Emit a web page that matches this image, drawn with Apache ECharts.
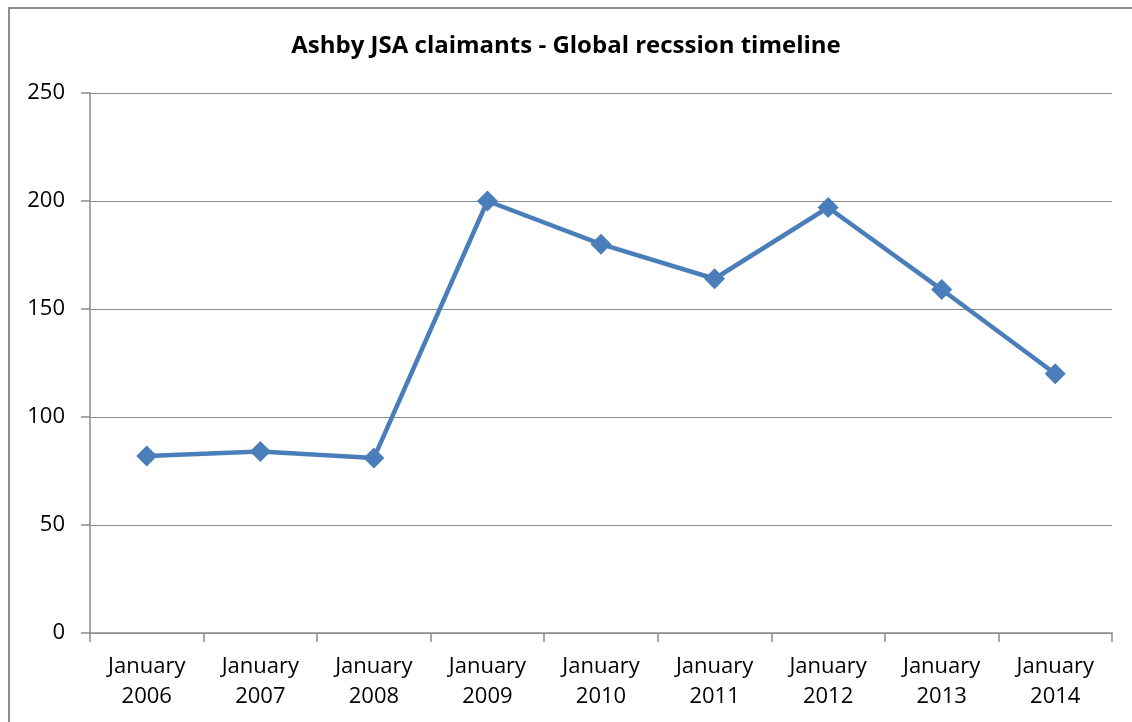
<!DOCTYPE html>
<html>
<head>
<meta charset="utf-8">
<script src="https://cdn.jsdelivr.net/npm/echarts@6/dist/echarts.min.js"></script>
<style>
  html, body { margin: 0; padding: 0; background: #fff; }
  #frame { position: absolute; left: 8px; top: 7px; width: 1140px; height: 740px; border: 2px solid #8c8c8c; box-sizing: border-box; }
  #chart { position: absolute; left: 0; top: 0; width: 1132px; height: 722px; }
</style>
</head>
<body>
<div id="frame"></div>
<div id="chart"></div>
<script>
// month labels along the bottom
const categories = ['January\n2006', 'January\n2007', 'January\n2008', 'January\n2009', 'January\n2010',
                    'January\n2011', 'January\n2012', 'January\n2013', 'January\n2014'];
// claimant counts
const claimants = [82, 84, 81, 200, 180, 164, 197, 159, 120];
const yTicks = [0, 50, 100, 150, 200, 250];

const chart = echarts.init(document.getElementById('chart'));
const font = '"Open Sans", "DejaVu Sans", sans-serif';

chart.setOption({
  animation: false,
  title: {
    text: 'Ashby JSA claimants - Global recssion timeline',
    left: 'center',
    top: 29,
    textStyle: { fontFamily: font, fontSize: 24, fontWeight: 'bold', color: '#000' }
  },
  grid: { left: 90, right: 20, top: 93, bottom: 89 },
  xAxis: {
    type: 'category',
    data: categories,
    boundaryGap: true,
    axisLine: { lineStyle: { color: '#8c8c8c', width: 1.5 } },
    axisTick: { show: true, length: 9, alignWithLabel: false, lineStyle: { color: '#8c8c8c', width: 1.5 } },
    axisLabel: { color: '#000', fontFamily: font, fontSize: 22, lineHeight: 30, margin: 19 }
  },
  yAxis: {
    type: 'value',
    min: yTicks[0],
    max: yTicks[yTicks.length - 1],
    interval: 50,
    axisLine: { show: true, lineStyle: { color: '#8c8c8c', width: 1.5 } },
    axisTick: { show: true, length: 9, lineStyle: { color: '#8c8c8c', width: 1.5 } },
    axisLabel: { color: '#000', fontFamily: font, fontSize: 22, margin: 25 },
    splitLine: { lineStyle: { color: '#8c8c8c', width: 1.2 } }
  },
  series: [{
    name: 'claimants',
    type: 'line',
    data: claimants,
    symbol: 'diamond',
    symbolSize: 21,
    lineStyle: { color: '#4a7ebb', width: 4.5 },
    itemStyle: { color: '#4a7ebb' }
  }]
});
</script>
</body>
</html>
